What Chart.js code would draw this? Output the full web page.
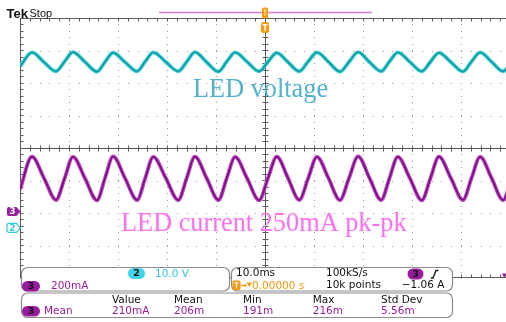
<!DOCTYPE html>
<html><head><meta charset="utf-8">
<script src="https://cdn.jsdelivr.net/npm/chart.js@4/dist/chart.umd.min.js"></script>
<style>html,body{margin:0;padding:0;overflow:hidden;background:#fff;width:506px;height:322px}canvas{display:block}</style>
</head><body><canvas id="c" width="520" height="322"></canvas>
<script>
// time relative to trigger, ms (10 ms/div)
const timeMs = [-50,
  -47.55, -45.1, -42.65, -40.9,
  -39.2, -36.75, -34.3, -32.65,
  -31.0, -28.55, -26.1, -24.45,
  -22.8, -20.25, -17.7, -16.0,
  -14.3, -11.9, -9.5, -7.8,
  -6.1, -3.65, -1.2, 0.6,
  2.4, 4.7, 7.0, 8.8,
  10.6, 12.95, 15.3, 17.15,
  19.0, 21.35, 23.7, 25.4,
  27.1, 29.55, 32.0, 33.75,
  35.5, 37.95, 40.4, 42.15,
  43.9, 46.25, 48.6,
  50];
// channel 3, LED current (mA)
const currentMA = [134,
  337, 205, 70, 203,
  336, 204, 68, 205,
  338, 203, 70, 204,
  336, 205, 69, 203,
  337, 204, 70, 205,
  335, 203, 68, 204,
  337, 205, 70, 203,
  336, 204, 69, 205,
  338, 203, 70, 204,
  336, 205, 68, 203,
  337, 204, 70, 205,
  336, 204, 69,
  168];
// channel 2, LED voltage (V)
const voltageV = [49.7,
  54.0, 51.0, 48.2, 51.2,
  54.1, 51.1, 48.1, 51.1,
  53.9, 51.0, 48.2, 51.2,
  54.0, 51.1, 48.2, 51.1,
  54.1, 51.0, 48.1, 51.2,
  54.0, 51.1, 48.2, 51.1,
  53.9, 51.0, 48.2, 51.2,
  54.0, 51.1, 48.1, 51.1,
  54.1, 51.0, 48.2, 51.2,
  54.0, 51.1, 48.2, 51.1,
  53.9, 51.0, 48.1, 51.2,
  54.0, 51.1, 48.2,
  50.3];
const timeRange = [-50, 50];
const divRange = [-4, 4];
const ch2VoltsPerDiv = 10, ch2OffsetDiv = -2.46;
const ch3MAPerDiv = 200, ch3OffsetDiv = -1.95;

const pts = (vals) => timeMs.map((t, i) => ({x: t, y: vals[i]}));
const line = (vals, axis, color, w, order) => ({data: pts(vals), yAxisID: axis, borderColor: color, borderWidth: w,
  pointRadius: 0, fill: false, cubicInterpolationMode: 'monotone', order});

const F = '"DejaVu Sans", Verdana, sans-serif';
const PURPLE = '#9a1c9e', CYAN = '#34c6dc', ORANGE = '#f59a0c';

function rr(ctx, x, y, w, h, r) {
  ctx.beginPath();
  ctx.moveTo(x + r, y); ctx.lineTo(x + w - r, y); ctx.arcTo(x + w, y, x + w, y + r, r);
  ctx.lineTo(x + w, y + h - r); ctx.arcTo(x + w, y + h, x + w - r, y + h, r);
  ctx.lineTo(x + r, y + h); ctx.arcTo(x, y + h, x, y + h - r, r);
  ctx.lineTo(x, y + r); ctx.arcTo(x, y, x + r, y, r); ctx.closePath();
}
function pill(ctx, x, y, w, h, fill, txt, tc) {
  rr(ctx, x, y, w, h, h / 2); ctx.fillStyle = fill; ctx.fill();
  ctx.fillStyle = tc; ctx.font = 'bold 9.5px ' + F; ctx.textAlign = 'center'; ctx.textBaseline = 'middle';
  ctx.fillText(txt, x + w / 2, y + h / 2 + 0.5);
  ctx.textAlign = 'left'; ctx.textBaseline = 'alphabetic';
}
function txt(ctx, s, x, y, c, align) {
  ctx.fillStyle = c; ctx.font = '10.5px ' + F; ctx.textAlign = align || 'left'; ctx.fillText(s, x, y);
}

const graticule = {
  id: 'graticule',
  beforeDatasetsDraw(chart) {
    const {ctx, chartArea: a, scales: {x, y}} = chart;
    ctx.save();
    // dotted division lines
    ctx.fillStyle = '#9c9c9c';
    for (let t = timeRange[0] + 10; t < timeRange[1]; t += 10) {
      const px = Math.round(x.getPixelForValue(t));
      for (let d = divRange[0]; d <= divRange[1] + 0.01; d += 0.2) ctx.fillRect(px, Math.round(y.getPixelForValue(d)), 1, 1);
    }
    for (let d = divRange[0] + 1; d < divRange[1]; d += 1) {
      const py = Math.round(y.getPixelForValue(d));
      for (let t = timeRange[0]; t <= timeRange[1] + 0.01; t += 2) ctx.fillRect(Math.round(x.getPixelForValue(t)), py, 1, 1);
    }
    ctx.strokeStyle = '#5a5a5a'; ctx.lineWidth = 1;
    const L = Math.round(a.left) + 0.5, T = Math.round(a.top) + 0.5, R = Math.round(a.right) - 0.5, B = Math.round(a.bottom) - 0.5;
    ctx.strokeRect(L, T, R - L, B - T);
    const cx = Math.round(x.getPixelForValue(0)) + 0.5, cy = Math.round(y.getPixelForValue(0)) + 0.5;
    ctx.beginPath();
    ctx.moveTo(cx, T); ctx.lineTo(cx, B); ctx.moveTo(L, cy); ctx.lineTo(R, cy);
    for (let t = timeRange[0]; t <= timeRange[1] + 0.01; t += 2) {
      const px = Math.round(x.getPixelForValue(t)) + 0.5;
      ctx.moveTo(px, T); ctx.lineTo(px, T + 3);
      ctx.moveTo(px, B); ctx.lineTo(px, B - 3);
      ctx.moveTo(px, cy - 3); ctx.lineTo(px, cy + 3);
    }
    for (let d = divRange[0]; d <= divRange[1] + 0.01; d += 0.2) {
      const py = Math.round(y.getPixelForValue(d)) + 0.5;
      ctx.moveTo(L, py); ctx.lineTo(L + 3, py);
      ctx.moveTo(R, py); ctx.lineTo(R - 3, py);
      ctx.moveTo(cx - 3, py); ctx.lineTo(cx + 3, py);
    }
    ctx.stroke();
    ctx.restore();
  },
  afterDatasetsDraw(chart) {
    const {ctx, scales: {x, y2, y3}} = chart;
    ctx.save();
    // header
    ctx.fillStyle = '#111'; ctx.font = 'bold 13px "Liberation Sans", Arial, sans-serif';
    ctx.fillText('Tek', 6.5, 18);
    ctx.font = '11px "Liberation Sans", Arial, sans-serif'; ctx.fillText('Stop', 29.5, 17);
    ctx.strokeStyle = '#d77ade'; ctx.lineWidth = 1.5;
    ctx.beginPath(); ctx.moveTo(159, 12.5); ctx.lineTo(372, 12.5); ctx.stroke();
    // trigger position markers
    const tx = x.getPixelForValue(0);
    rr(ctx, tx - 3, 7.5, 6, 11, 2); ctx.fillStyle = ORANGE; ctx.fill();
    ctx.strokeStyle = '#ffe6b0'; ctx.lineWidth = 1;
    ctx.beginPath(); ctx.moveTo(tx - 1.5, 10); ctx.lineTo(tx + 1.5, 10); ctx.moveTo(tx, 10); ctx.lineTo(tx, 16); ctx.stroke();
    rr(ctx, tx - 4, 22, 8, 11, 2.5); ctx.fillStyle = ORANGE; ctx.fill();
    ctx.strokeStyle = '#fff'; ctx.lineWidth = 1.4;
    ctx.beginPath(); ctx.moveTo(tx - 2.5, 24.8); ctx.lineTo(tx + 2.5, 24.8); ctx.moveTo(tx, 24.8); ctx.lineTo(tx, 31); ctx.stroke();
    // channel ground markers
    const mk = (py, fill, stroke, label, tc) => {
      ctx.beginPath();
      ctx.moveTo(9, py - 4.5); ctx.lineTo(16.5, py - 4.5); ctx.lineTo(20.5, py); ctx.lineTo(16.5, py + 4.5); ctx.lineTo(9, py + 4.5);
      ctx.arcTo(7, py + 4.5, 7, py + 2.5, 2); ctx.lineTo(7, py - 2.5); ctx.arcTo(7, py - 4.5, 9, py - 4.5, 2); ctx.closePath();
      ctx.fillStyle = fill; ctx.fill();
      if (stroke) { ctx.strokeStyle = stroke; ctx.lineWidth = 1.2; ctx.stroke(); }
      ctx.fillStyle = tc; ctx.font = 'bold 9px ' + F; ctx.textAlign = 'center'; ctx.textBaseline = 'middle';
      ctx.fillText(label, 12.5, py + 0.5); ctx.textAlign = 'left'; ctx.textBaseline = 'alphabetic';
    };
    mk(y3.getPixelForValue(0), PURPLE, null, '3', '#fff');
    mk(y2.getPixelForValue(0), '#fff', CYAN, '2', CYAN);
    // trigger level indicator at right edge
    ctx.fillStyle = PURPLE; ctx.beginPath(); ctx.moveTo(502, 273.5); ctx.lineTo(507, 273.5); ctx.lineTo(504.5, 278); ctx.closePath(); ctx.fill();
    // annotations
    ctx.font = '26.3px "Liberation Serif", "Times New Roman", serif';
    ctx.fillStyle = '#52b2d0'; ctx.fillText('LED voltage', 193, 96.5);
    ctx.fillStyle = '#ff6ff0'; ctx.fillText('LED current 250mA pk-pk', 121, 230.5);
    // panels
    ctx.lineWidth = 1.2; ctx.strokeStyle = '#8c8c8c';
    [[21, 267, 208, 23.5], [231, 267, 221, 23.5], [21, 292.5, 431, 24.5]].forEach(b => {
      rr(ctx, b[0] + 0.5, b[1] + 0.5, b[2], b[3], 6); ctx.fillStyle = '#fff'; ctx.fill(); ctx.stroke();
    });
    pill(ctx, 128, 268, 17, 11, '#3fd4e8', '2', '#111');
    txt(ctx, '10.0 V', 155, 277, CYAN);
    pill(ctx, 22, 281, 18, 10.5, PURPLE, '3', '#111');
    txt(ctx, '200mA', 51, 289, PURPLE);
    txt(ctx, '10.0ms', 236, 276, '#111');
    txt(ctx, '100kS/s', 326, 276, '#111');
    pill(ctx, 407.5, 268.5, 16, 11, PURPLE, '3', '#111');
    ctx.strokeStyle = '#111'; ctx.lineWidth = 1.3;
    ctx.beginPath(); ctx.moveTo(431, 278); ctx.lineTo(433, 278); ctx.lineTo(436, 270.5); ctx.lineTo(438.5, 270.5); ctx.stroke();
    rr(ctx, 232.5, 280.5, 8, 9.5, 1.5); ctx.fillStyle = ORANGE; ctx.fill();
    ctx.strokeStyle = '#fff'; ctx.lineWidth = 1.2;
    ctx.beginPath(); ctx.moveTo(234.5, 282.8); ctx.lineTo(238.5, 282.8); ctx.moveTo(236.5, 282.8); ctx.lineTo(236.5, 288.5); ctx.stroke();
    ctx.strokeStyle = ORANGE; ctx.lineWidth = 1.2;
    ctx.beginPath(); ctx.moveTo(241, 285.5); ctx.lineTo(246, 285.5); ctx.stroke();
    ctx.fillStyle = ORANGE; ctx.beginPath(); ctx.moveTo(244.5, 283.5); ctx.lineTo(246.8, 285.5); ctx.lineTo(244.5, 287.5); ctx.closePath(); ctx.fill();
    ctx.beginPath(); ctx.moveTo(246.5, 282.5); ctx.lineTo(252, 282.5); ctx.lineTo(249.25, 287); ctx.closePath(); ctx.fill();
    txt(ctx, '0.00000 s', 252, 289, ORANGE);
    txt(ctx, '10k points', 326, 288, '#111');
    txt(ctx, '\u22121.06 A', 444.5, 288, '#111', 'right');
    const hx = [112, 174, 243, 312.7, 381];
    ['Value', 'Mean', 'Min', 'Max', 'Std Dev'].forEach((s, i) => txt(ctx, s, hx[i], 303, '#111'));
    pill(ctx, 22, 306, 18, 10.5, PURPLE, '3', '#111');
    txt(ctx, 'Mean', 44, 314, PURPLE);
    ['210mA', '206m', '191m', '216m', '5.56m'].forEach((s, i) => txt(ctx, s, hx[i], 314, PURPLE));
    ctx.restore();
  }
};

new Chart(document.getElementById('c'), {
  type: 'line',
  data: {datasets: [
    line(voltageV, 'y2', '#3ccfd6', 3.8, 4),
    line(voltageV, 'y2', '#14999f', 1.6, 3),
    line(currentMA, 'y3', '#b44aba', 3.8, 2),
    line(currentMA, 'y3', '#7e0a84', 1.6, 1)
  ]},
  options: {
    responsive: false, animation: false, devicePixelRatio: 1,
    layout: {padding: {left: 20, top: 18, right: 10, bottom: 44}},
    plugins: {legend: {display: false}, tooltip: {enabled: false}},
    scales: {
      x: {type: 'linear', display: false, min: timeRange[0], max: timeRange[1]},
      y: {type: 'linear', display: false, min: divRange[0], max: divRange[1]},
      y2: {display: false, min: (divRange[0] - ch2OffsetDiv) * ch2VoltsPerDiv, max: (divRange[1] - ch2OffsetDiv) * ch2VoltsPerDiv},
      y3: {display: false, min: (divRange[0] - ch3OffsetDiv) * ch3MAPerDiv, max: (divRange[1] - ch3OffsetDiv) * ch3MAPerDiv}
    }
  },
  plugins: [graticule]
});
</script></body></html>
